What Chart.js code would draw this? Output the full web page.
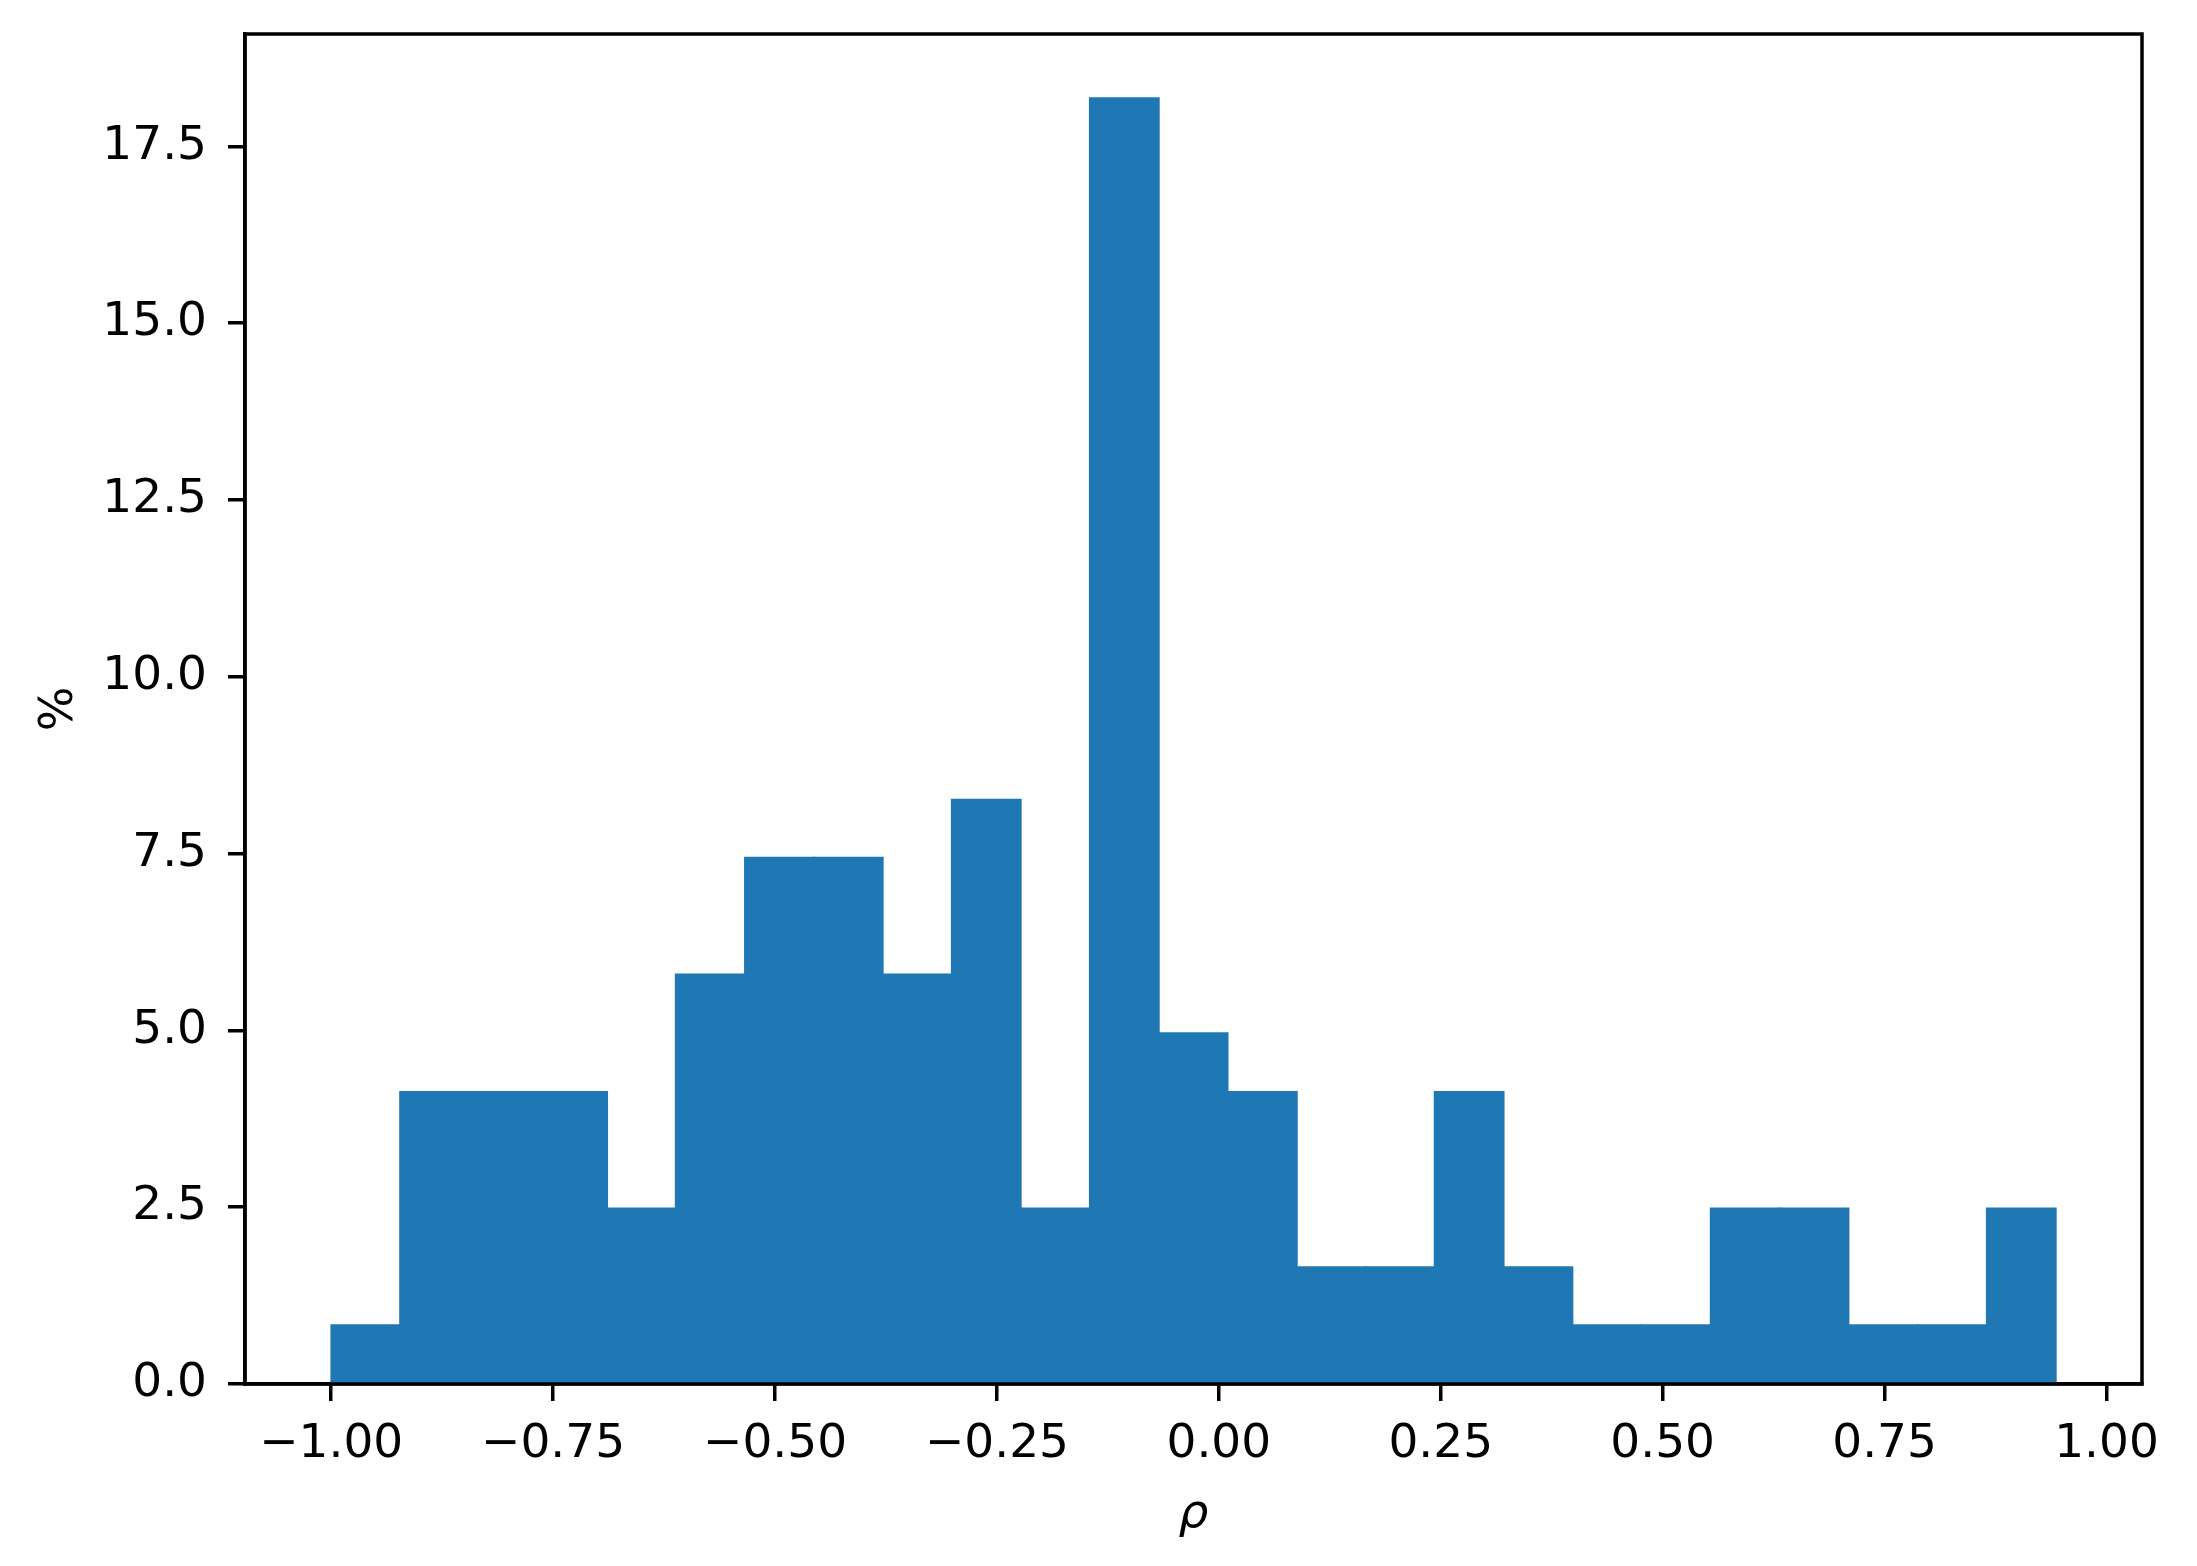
<!DOCTYPE html>
<html>
<head>
<meta charset="utf-8">
<script src="https://cdn.jsdelivr.net/npm/chart.js@4/dist/chart.umd.min.js"></script>
<style>
  html, body { margin: 0; padding: 0; background: #fff; }
  #wrap { width: 2197px; height: 1566px; position: relative; }
</style>
</head>
<body>
<div id="wrap"><canvas id="c" width="2197" height="1566"></canvas></div>
<script>
// Histogram bin edges (rho) and bar heights (%)
const binEdges = [-1.000, -0.922, -0.845, -0.767, -0.689, -0.612, -0.534, -0.456, -0.379,
  -0.301, -0.223, -0.145, -0.068, 0.010, 0.088, 0.165, 0.243, 0.321, 0.398, 0.476,
  0.554, 0.632, 0.709, 0.787, 0.865, 0.943];
const percentValues = [0.83, 4.13, 4.13, 4.13, 2.48, 5.79, 7.44, 7.44, 5.79, 8.26, 2.48,
  18.18, 4.96, 4.13, 1.65, 1.65, 4.13, 1.65, 0.83, 0.83, 2.48, 2.48, 0.83, 0.83, 2.48];
const xTicks = [-1.00, -0.75, -0.50, -0.25, 0.00, 0.25, 0.50, 0.75, 1.00];
const yTicks = [0.0, 2.5, 5.0, 7.5, 10.0, 12.5, 15.0, 17.5];
const xTitle = 'ρ';
const yTitle = '%';

const points = percentValues.map((v, i) => ({ x: (binEdges[i] + binEdges[i + 1]) / 2, y: v }));
const xMin = -1.0971, xMax = 1.0400, yMin = 0, yMax = 19.09;

const FONT = 'DejaVu Sans';
const FS = 47;

const frame = {
  id: 'frame',
  afterDatasetsDraw(chart) {
    const { ctx, chartArea: a } = chart;
    ctx.save();
    ctx.strokeStyle = '#000';
    ctx.lineWidth = 3.5;
    ctx.strokeRect(a.left, a.top, a.right - a.left, a.bottom - a.top);
    ctx.restore();
  }
};

new Chart(document.getElementById('c'), {
  type: 'bar',
  data: {
    datasets: [{
      data: points,
      backgroundColor: '#1f77b4',
      borderWidth: 0,
      inflateAmount: 1,
      barPercentage: 1.0,
      categoryPercentage: 1.0,
      grouped: false
    }]
  },
  options: {
    responsive: false,
    animation: false,
    devicePixelRatio: 1,
    layout: { padding: { top: 34, right: 55, left: 0, bottom: 0 } },
    plugins: { legend: { display: false }, tooltip: { enabled: false } },
    scales: {
      x: {
        type: 'linear',
        offset: false,
        min: xMin, max: xMax,
        afterFit(s) { s.height = 182; s.paddingLeft = 0; s.paddingRight = 0; },
        afterBuildTicks(s) { s.ticks = xTicks.map(v => ({ value: v })); },
        grid: { offset: false, drawOnChartArea: false, drawTicks: true, tickLength: 17, color: '#000', lineWidth: 3.5 },
        border: { display: true, color: '#000', width: 3.5 },
        ticks: {
          color: '#000', font: { family: FONT, size: FS }, padding: 16, maxRotation: 0, autoSkip: false,
          callback: v => v.toFixed(2).replace('-', '\u2212')
        },
        title: { display: true, text: xTitle, color: '#000', font: { family: FONT, size: FS, style: 'italic' }, padding: { top: 0, bottom: 23 } }
      },
      y: {
        type: 'linear',
        min: yMin, max: yMax,
        afterFit(s) { s.width = 245; s.paddingTop = 0; s.paddingBottom = 0; },
        afterBuildTicks(s) { s.ticks = yTicks.map(v => ({ value: v })); },
        grid: { drawOnChartArea: false, drawTicks: true, tickLength: 17, color: '#000', lineWidth: 3.5 },
        border: { display: true, color: '#000', width: 3.5 },
        ticks: {
          color: '#000', font: { family: FONT, size: FS }, padding: 21, autoSkip: false,
          callback: v => v.toFixed(1)
        },
        title: { display: true, text: yTitle, color: '#000', font: { family: FONT, size: FS }, padding: { top: 32, bottom: 0 } }
      }
    }
  },
  plugins: [frame]
});
</script>
</body>
</html>
